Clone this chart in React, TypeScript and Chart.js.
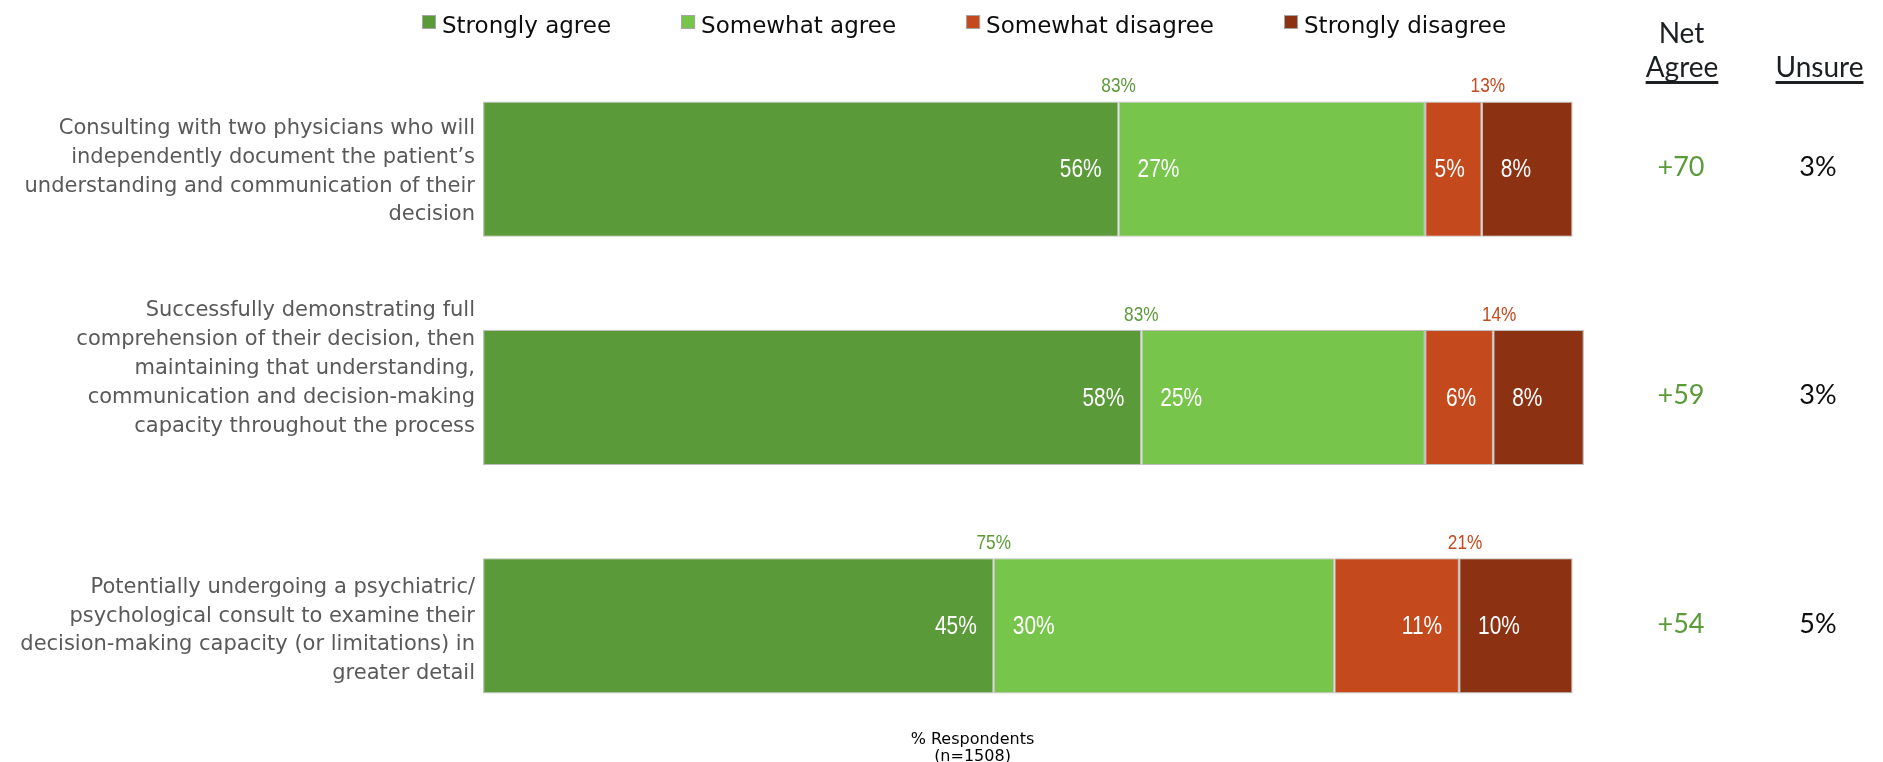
import React, { useEffect, useRef } from "react";
import { Chart, registerables } from "chart.js";

Chart.register(...registerables);

const categories: string[][] = [
  [
    "Consulting with two physicians who will",
    "independently document the patient’s",
    "understanding and communication of their",
    "decision",
  ],
  [
    "Successfully demonstrating full",
    "comprehension of their decision, then",
    "maintaining that understanding,",
    "communication and decision-making",
    "capacity throughout the process",
  ],
  [
    "Potentially undergoing a psychiatric/",
    "psychological consult to examine their",
    "decision-making capacity (or limitations) in",
    "greater detail",
  ],
];

const seriesNames = ["Strongly agree", "Somewhat agree", "Somewhat disagree", "Strongly disagree"];
const stronglyAgree = [56, 58, 45];
const somewhatAgree = [27, 25, 30];
const somewhatDisagree = [5, 6, 11];
const stronglyDisagree = [8, 8, 10];
const agreeTotals = [83, 83, 75];
const disagreeTotals = [13, 14, 21];
const netAgree = [70, 59, 54];
const unsure = [3, 3, 5];
const axisTitle = ["% Respondents", "(n=1508)"];

const seriesColors = ["#5B9A39", "#77C64B", "#C44A1E", "#8C3213"];
const green = "#5B9A39";
const red = "#C4491D";

export default function App() {
  const ref = useRef<HTMLCanvasElement>(null);

  useEffect(() => {
    const canvas = ref.current!;
    const c0 = canvas.getContext("2d")!;
    c0.font = '40px "Liberation Sans Narrow", monospace';
    const wn = c0.measureText("abcdefg 0123%").width;
    c0.font = "40px monospace";
    const wm = c0.measureText("abcdefg 0123%").width;
    const hasNarrow = Math.abs(wn - wm) > 0.5;

    const drawNarrow = (
      ctx: CanvasRenderingContext2D,
      text: string,
      x: number,
      y: number,
      align: CanvasTextAlign,
      size: number,
      color: string,
      baseline: CanvasTextBaseline = "middle"
    ) => {
      ctx.save();
      ctx.fillStyle = color;
      ctx.textAlign = align;
      ctx.textBaseline = baseline;
      if (hasNarrow) {
        ctx.font = `${size}px "Liberation Sans Narrow"`;
        ctx.fillText(text, x, y);
      } else {
        ctx.font = `${size}px "Liberation Sans"`;
        ctx.translate(x, y);
        ctx.scale(0.82, 1);
        ctx.fillText(text, 0, 0);
      }
      ctx.restore();
    };

    const values = [stronglyAgree, somewhatAgree, somewhatDisagree, stronglyDisagree];
    const labelOffsets = [2.6, -29, 4.7];

    const overlay = {
      id: "overlay",
      afterDraw(chart: any) {
        const ctx: CanvasRenderingContext2D = chart.ctx;
        ctx.save();

        // Legend
        ctx.font = '23px "DejaVu Sans"';
        ctx.textBaseline = "alphabetic";
        ctx.textAlign = "left";
        let lx = 422;
        seriesNames.forEach((name, i) => {
          ctx.fillStyle = seriesColors[i];
          ctx.fillRect(lx, 15, 14, 14);
          ctx.strokeStyle = "#a6a6a6";
          ctx.lineWidth = 1;
          ctx.strokeRect(lx + 0.5, 15.5, 13, 13);
          ctx.fillStyle = "#0d0d0d";
          ctx.fillText(name, lx + 20, 33);
          lx += 20 + ctx.measureText(name).width + 70;
        });

        // Headers
        ctx.font = '28px Lato';
        ctx.fillStyle = "#1b1f22";
        ctx.textAlign = "center";
        ctx.fillText("Net", 1681.5, 42.7);
        ctx.fillText("Agree", 1682, 77);
        ctx.fillText("Unsure", 1819.5, 77);
        const wA = ctx.measureText("Agree").width;
        const wU = ctx.measureText("Unsure").width;
        ctx.fillRect(1682 - wA / 2, 81, wA, 3);
        ctx.fillRect(1819.5 - wU / 2, 81, wU, 3);

        const yScale = chart.scales.y;

        // Category labels
        ctx.font = '21px "DejaVu Sans"';
        ctx.fillStyle = "#595959";
        ctx.textAlign = "right";
        ctx.textBaseline = "middle";
        const pitch = 28.8;
        categories.forEach((lines, i) => {
          const cy = yScale.getPixelForValue(i) + labelOffsets[i];
          const start = cy - ((lines.length - 1) * pitch) / 2;
          lines.forEach((ln, k) => ctx.fillText(ln, 475, start + k * pitch));
        });

        // In-bar labels
        values.forEach((arr, d) => {
          const meta = chart.getDatasetMeta(d);
          meta.data.forEach((el: any, i: number) => {
            const p = el.getProps(["x", "base", "y", "height"], true);
            const left = Math.min(p.x, p.base);
            const right = Math.max(p.x, p.base);
            const txt = `${arr[i]}%`;
            if (d % 2 === 0) drawNarrow(ctx, txt, right - 17, p.y + 1, "right", 25.5, "#ffffff");
            else drawNarrow(ctx, txt, left + 19, p.y + 1, "left", 25.5, "#ffffff");
          });
        });

        // Totals above bars
        const m0 = chart.getDatasetMeta(0);
        const m2 = chart.getDatasetMeta(2);
        m0.data.forEach((el: any, i: number) => {
          const p = el.getProps(["x", "base", "y", "height"], true);
          const top = p.y - p.height / 2;
          drawNarrow(ctx, `${agreeTotals[i]}%`, Math.max(p.x, p.base), top - 9, "center", 21, green, "alphabetic");
          const e2: any = m2.data[i];
          const p2 = e2.getProps(["x", "base"], true);
          drawNarrow(ctx, `${disagreeTotals[i]}%`, Math.max(p2.x, p2.base) + 6, top - 9, "center", 21, red, "alphabetic");

          // Net agree and unsure
          ctx.font = "27px Lato";
          ctx.textAlign = "center";
          ctx.textBaseline = "middle";
          ctx.fillStyle = green;
          ctx.fillText(`+${netAgree[i]}`, 1681, p.y - 2);
          ctx.fillStyle = "#0d0d0d";
          ctx.fillText(`${unsure[i]}%`, 1818, p.y - 2);
        });

        // Axis title
        ctx.font = '16px "DejaVu Sans"';
        ctx.fillStyle = "#000000";
        ctx.textAlign = "center";
        ctx.textBaseline = "alphabetic";
        ctx.fillText(axisTitle[0], 972.5, 743.5);
        ctx.fillText(axisTitle[1], 972.5, 761);

        ctx.restore();
      },
    };

    const chart = new Chart(canvas, {
      type: "bar",
      data: {
        labels: categories.map((c) => c.join(" ")),
        datasets: values.map((arr, d) => ({
          label: seriesNames[d],
          data: arr,
          backgroundColor: seriesColors[d],
          borderColor: "#bfbfbf",
          borderWidth: 1.2,
          borderSkipped: false,
          barPercentage: 1,
          categoryPercentage: 0.593,
        })),
      },
      options: {
        indexAxis: "y",
        responsive: false,
        animation: false,
        devicePixelRatio: 1,
        layout: { padding: { left: 483, right: 265, top: 55, bottom: 22 } },
        scales: {
          x: { stacked: true, min: 0, max: 100, display: false },
          y: { stacked: true, display: false },
        },
        plugins: {
          legend: { display: false },
          tooltip: { enabled: false },
          title: { display: false },
        },
      },
      plugins: [overlay],
    } as any);

    return () => chart.destroy();
  }, []);

  return (
    <div style={{ position: "fixed", left: 0, top: 0, width: 1883, height: 762, background: "#ffffff" }}>
      <canvas ref={ref} width={1883} height={762} style={{ display: "block" }} />
    </div>
  );
}
